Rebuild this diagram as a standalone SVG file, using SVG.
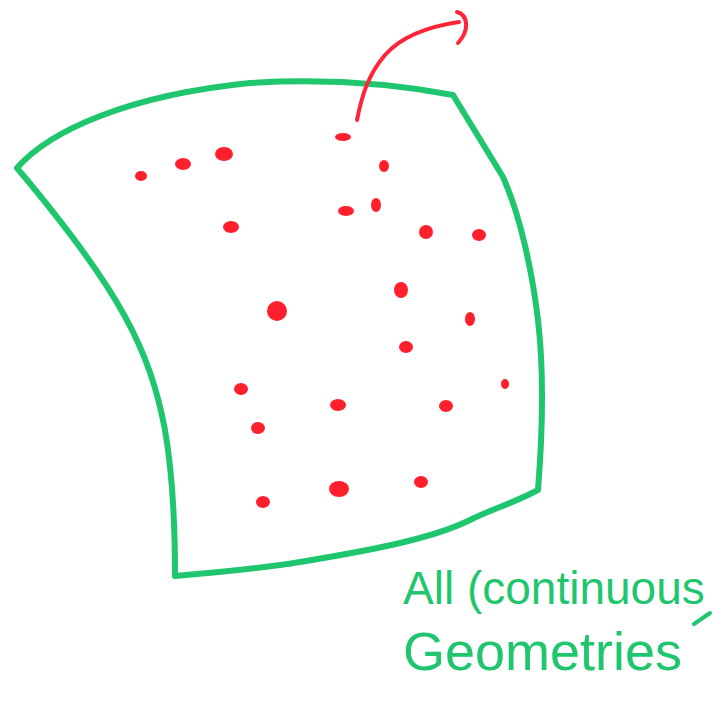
<svg xmlns="http://www.w3.org/2000/svg" width="726" height="707" viewBox="0 0 726 707">
  <style>
    .outline { fill: none; stroke: #1fc66e; stroke-width: 6; stroke-linecap: round; stroke-linejoin: round; }
    .dot { fill: #ff1f2d; }
    .arrow { fill: none; stroke: #ff2438; stroke-width: 4; stroke-linecap: round; }
    .label { font-family: "Liberation Sans", Arial, sans-serif; font-size: 54px; fill: #1fc66e; }
  </style>
  <rect width="726" height="707" fill="#ffffff"/>
  <g id="region">
    <path class="outline" d="M17,168 C50,130 130,95 250,83 C330,78 400,85 453,95 L503,177 C520,215 532,270 538,320 C545,380 542,440 538,490 L530,494 C510,504 490,510 470,520 C430,540 360,552 300,562 C250,570 200,574 175,576 C175,520 172,470 165,430 C150,350 120,290 17,168 Z"/>
  </g>
  <g id="points">
    <ellipse class="dot" cx="141" cy="176" rx="6" ry="5"/>
    <ellipse class="dot" cx="183" cy="164" rx="8" ry="6"/>
    <ellipse class="dot" cx="224" cy="154" rx="9" ry="7"/>
    <ellipse class="dot" cx="343" cy="137" rx="8" ry="4"/>
    <ellipse class="dot" cx="384" cy="166" rx="5" ry="6"/>
    <ellipse class="dot" cx="346" cy="211" rx="8" ry="5"/>
    <ellipse class="dot" cx="376" cy="205" rx="5" ry="7"/>
    <ellipse class="dot" cx="231" cy="227" rx="8" ry="6"/>
    <ellipse class="dot" cx="426" cy="232" rx="7" ry="7"/>
    <ellipse class="dot" cx="479" cy="235" rx="7" ry="6"/>
    <ellipse class="dot" cx="401" cy="290" rx="7" ry="8"/>
    <ellipse class="dot" cx="277" cy="311" rx="10" ry="10"/>
    <ellipse class="dot" cx="470" cy="319" rx="5" ry="7"/>
    <ellipse class="dot" cx="406" cy="347" rx="7" ry="6"/>
    <ellipse class="dot" cx="241" cy="389" rx="7" ry="6"/>
    <ellipse class="dot" cx="505" cy="384" rx="4" ry="5"/>
    <ellipse class="dot" cx="338" cy="405" rx="8" ry="6"/>
    <ellipse class="dot" cx="446" cy="406" rx="7" ry="6"/>
    <ellipse class="dot" cx="258" cy="428" rx="7" ry="6"/>
    <ellipse class="dot" cx="263" cy="502" rx="7" ry="6"/>
    <ellipse class="dot" cx="339" cy="489" rx="10" ry="8"/>
    <ellipse class="dot" cx="421" cy="482" rx="7" ry="6"/>
  </g>
  <g id="connectors">
    <path class="arrow" d="M357,120 C362,95 368,75 385,55 C400,38 425,27 459,22"/>
    <path class="arrow" d="M457,12 C468,15 470,30 458,43"/>
  </g>
  <g id="caption">
    <text class="label" x="403" y="604" style="font-size:46px">All (continuous</text>
    <text class="label" x="403" y="670">Geometries</text>
    <path d="M694,624 L710,613" fill="none" stroke="#1fc66e" stroke-width="4" stroke-linecap="round"/>
  </g>
</svg>
